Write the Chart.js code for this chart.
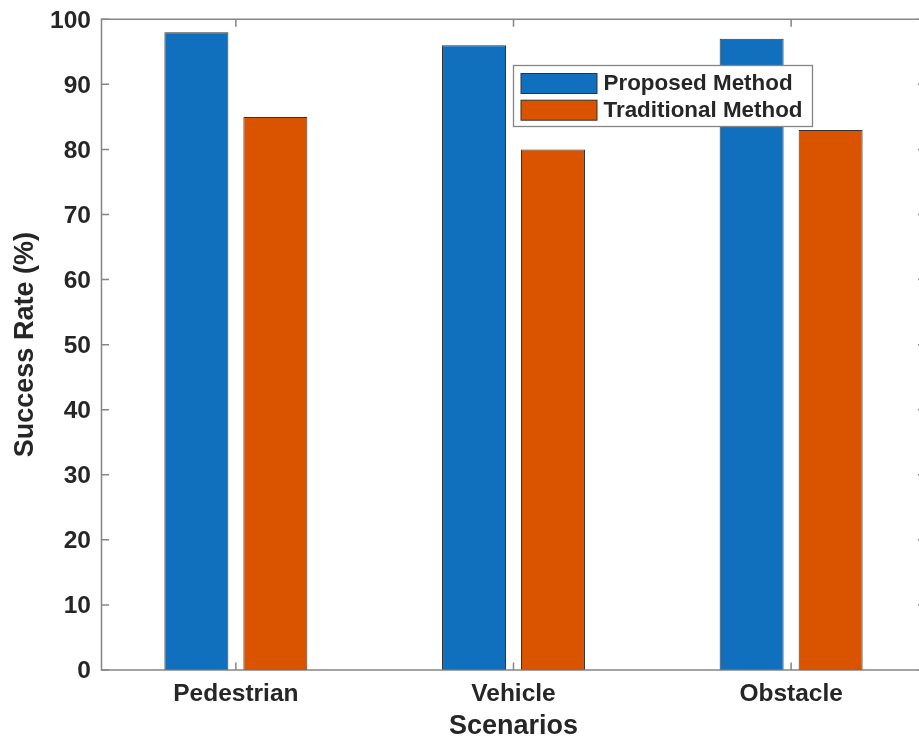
<!DOCTYPE html>
<html>
<head>
<meta charset="utf-8">
<script src="https://cdn.jsdelivr.net/npm/chart.js@4.4.1/dist/chart.umd.min.js"></script>
<style>
  html, body { margin: 0; padding: 0; background: #ffffff; overflow: hidden; }
  #wrap { width: 919px; height: 740px; overflow: hidden; position: relative; }
  canvas { display: block; }
</style>
</head>
<body>
<div id="wrap"><canvas id="c" width="940" height="740" style="width:940px;height:740px"></canvas></div>
<script>
// ---- data ----
const categories = ["Pedestrian", "Vehicle", "Obstacle"];
const categoryPositions = [1, 2, 3];
const proposedMethod = [98, 96, 97];
const traditionalMethod = [85, 80, 83];
const seriesLabels = ["Proposed Method", "Traditional Method"];
const yTicks = [0, 10, 20, 30, 40, 50, 60, 70, 80, 90, 100];
const xTitle = "Scenarios";
const yTitle = "Success Rate (%)";

// ---- styles ----
const FONT = '"Liberation Sans", Arial, Helvetica, sans-serif';
const TEXT = '#262626';
const AXIS = '#858585';
const BLUE = '#1170BE';
const ORANGE = '#DA5400';
const EDGE = '#333333';

const toPts = (vals) => vals.map((v, i) => ({ x: categoryPositions[i], y: v }));

const axisBox = {
  id: 'axisBox',
  afterDraw(chart) {
    const { ctx, chartArea: { left, right, top, bottom }, scales: { x, y } } = chart;
    ctx.save();
    ctx.strokeStyle = AXIS;
    ctx.lineWidth = 1.5;
    ctx.beginPath();
    ctx.moveTo(left, bottom); ctx.lineTo(left, top); ctx.lineTo(right, top);
    ctx.lineTo(right, bottom); ctx.closePath();
    ctx.stroke();
    const tl = 7.5;
    ctx.beginPath();
    y.ticks.forEach(t => {
      const py = y.getPixelForValue(t.value);
      ctx.moveTo(left, py); ctx.lineTo(left + tl, py);
      ctx.moveTo(right, py); ctx.lineTo(right - tl, py);
    });
    x.ticks.forEach(t => {
      const px = x.getPixelForValue(t.value);
      ctx.moveTo(px, bottom); ctx.lineTo(px, bottom - tl);
      ctx.moveTo(px, top); ctx.lineTo(px, top + tl);
    });
    ctx.stroke();

    // legend
    const lx = 513.5, ly = 65.5, lw = 299, lh = 61;
    ctx.fillStyle = '#ffffff';
    ctx.fillRect(lx, ly, lw, lh);
    ctx.strokeStyle = AXIS;
    ctx.lineWidth = 1.3;
    ctx.strokeRect(lx, ly, lw, lh);
    ctx.font = 'bold 22.4px ' + FONT;
    ctx.textBaseline = 'middle';
    ctx.textAlign = 'left';
    chart.data.datasets.forEach((ds, i) => {
      const sy = 73.5 + i * 26.7;
      ctx.fillStyle = ds.backgroundColor;
      ctx.fillRect(521, sy, 76, 20);
      ctx.strokeStyle = EDGE;
      ctx.lineWidth = 1;
      ctx.strokeRect(521, sy, 76, 20);
      ctx.fillStyle = TEXT;
      ctx.fillText(ds.label, 603.5, sy + 10.5);
    });
    ctx.restore();
  }
};

new Chart(document.getElementById('c'), {
  type: 'bar',
  data: {
    datasets: [
      { label: seriesLabels[0], data: toPts(proposedMethod), backgroundColor: BLUE,
        borderColor: EDGE, borderWidth: 1, borderSkipped: false },
      { label: seriesLabels[1], data: toPts(traditionalMethod), backgroundColor: ORANGE,
        borderColor: EDGE, borderWidth: 1, borderSkipped: false }
    ]
  },
  options: {
    responsive: false,
    animation: false,
    devicePixelRatio: 1,
    layout: { padding: { top: 19.3, right: 14.5, left: 0, bottom: 0 } },
    datasets: { bar: { categoryPercentage: 0.569, barPercentage: 0.81 } },
    plugins: { legend: { display: false }, tooltip: { enabled: false } },
    scales: {
      x: {
        type: 'linear',
        offset: false,
        min: 0.516, max: 3.484,
        afterBuildTicks(scale) { scale.ticks = categoryPositions.map(v => ({ value: v })); },
        afterFit(scale) { scale.height = 70; },
        grid: { display: false, drawTicks: false, offset: false },
        border: { display: false },
        ticks: {
          padding: 9.5,
          color: TEXT,
          font: { family: FONT, size: 24.5, weight: 'bold' },
          maxRotation: 0,
          autoSkip: false,
          callback: (v) => categories[categoryPositions.indexOf(v)] ?? ''
        },
        title: {
          display: true, text: xTitle, color: TEXT,
          font: { family: FONT, size: 27, weight: 'bold', lineHeight: 1.0 },
          padding: { top: 0, bottom: 0 }
        }
      },
      y: {
        min: 0, max: 100,
        afterBuildTicks(scale) { scale.ticks = yTicks.map(v => ({ value: v })); },
        afterFit(scale) { scale.width = 101.5; },
        grid: { display: false, drawTicks: false },
        border: { display: false },
        ticks: {
          padding: 10.5,
          labelOffset: 1.5,
          color: TEXT,
          font: { family: FONT, size: 24.5, weight: 'bold', lineHeight: 0.5 }
        },
        title: {
          display: true, text: yTitle, color: TEXT,
          font: { family: FONT, size: 27, weight: 'bold', lineHeight: 1.2 },
          padding: { top: 9, bottom: 0 }
        }
      }
    }
  },
  plugins: [axisBox]
});
</script>
</body>
</html>
